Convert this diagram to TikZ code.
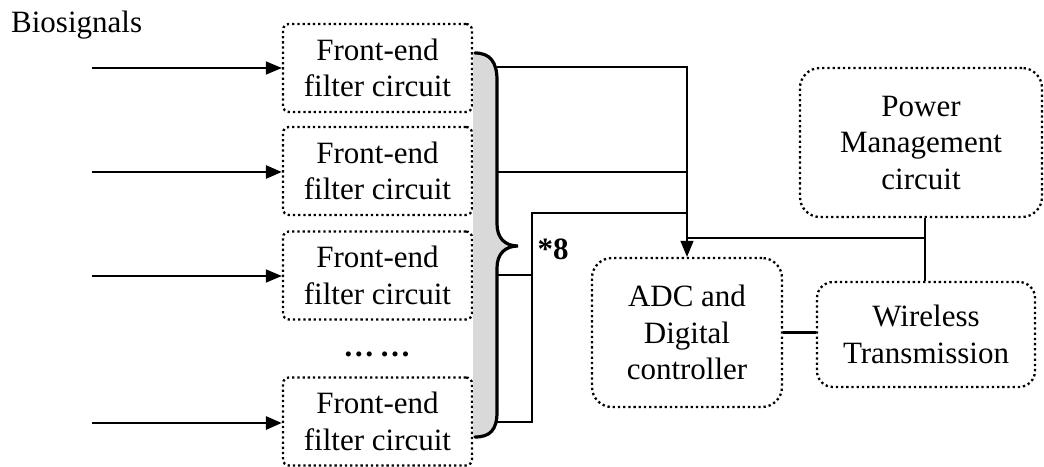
\documentclass[tikz,border=0pt]{standalone}
\usepackage{fontspec}
\setmainfont{Liberation Serif}
\usetikzlibrary{arrows.meta}
\begin{document}
\begin{tikzpicture}[x=1pt,y=-1pt,
  font=\fontsize{31}{36.5}\selectfont,
  dotbox/.style={draw, line width=2.3pt, dash pattern=on 2.3pt off 2.9pt,
    align=center, inner sep=0pt},
  febox/.style={dotbox, rounded corners=6pt, minimum width=189pt, minimum height=88pt},
  wire/.style={line width=1.3pt},
  heavy/.style={line width=2.8pt},
  tip/.style={-{Triangle[length=16pt,width=13pt]}},
  bracefill/.style={fill=black!15},
  bracepen/.style={line width=3.2pt, line cap=round}]
\useasboundingbox (0,0) rectangle (1044,466);

% label of the inputs
\node[anchor=base west, inner sep=0pt] (bio) at (11,32) {Biosignals};

% front-end filter channels
\node[febox] (f1) at (377.5,68)    {Front-end\\filter circuit};
\node[febox] (f2) at (377.5,171)   {Front-end\\filter circuit};
\node[febox] (f3) at (377.5,275.5) {Front-end\\filter circuit};
\node[febox] (f4) at (377.5,421.5) {Front-end\\filter circuit};
\node[anchor=base, inner sep=0pt] (more) at (377,356) {\textbf{…\,…}};

% input signal arrows
\coordinate (i1) at (92,68);
\coordinate (i2) at (92,172);
\coordinate (i3) at (92,276);
\coordinate (i4) at (92,423);
\draw[wire,tip]  (i1) -- (i1 -| f1.west);
\draw[heavy,tip] (i2) -- (i2 -| f2.west);
\draw[wire,tip]  (i3) -- (i3 -| f3.west);
\draw[heavy,tip] (i4) -- (i4 -| f4.west);

% shaded brace gathering the channels
\fill[bracefill] (473,53) .. controls (490,53) and (497,62) .. (497,80)
  -- (497,224) .. controls (497,238) and (505,246) .. (518,246)
  .. controls (505,246) and (497,254) .. (497,268)
  -- (497,412) .. controls (497,430) and (490,437) .. (473,437) -- cycle;
\draw[bracepen] (475,53) .. controls (490,53) and (497,62) .. (497,80)
  -- (497,224) .. controls (497,238) and (505,246) .. (518,246)
  .. controls (505,246) and (497,254) .. (497,268)
  -- (497,412) .. controls (497,430) and (490,437) .. (475,437);
\node[font=\fontsize{31}{36.5}\selectfont\bfseries, inner sep=0pt] (mult) at (553,249) {*8};

% processing blocks
\node[dotbox, rounded corners=20pt, minimum width=242pt, minimum height=149pt]
  (pwr) at (921,142.5) {Power\\Management\\circuit};
\node[dotbox, rounded corners=20pt, minimum width=190pt, minimum height=149pt]
  (adc) at (687,332.5) {ADC and\\Digital\\controller};
\node[dotbox, rounded corners=16pt, minimum width=218pt, minimum height=105pt]
  (rf) at (926,334.5) {Wireless\\Transmission};

% channel outputs to the controller
\coordinate (o1) at (497,67);
\coordinate (o2) at (497,172);
\coordinate (o3) at (497,275);
\coordinate (o4) at (497,422);
\coordinate (bus) at (532,213);
\draw[wire,tip] (o1) -| (adc.north);
\draw[wire] (o2) -- (o2 -| adc.north);
\draw[wire] (o3) -- (o3 -| bus);
\draw[wire] (o4) -| (bus) -- (bus -| adc.north);

% power distribution and radio link
\coordinate (pj) at (925,238);
\draw[heavy] (pj -| adc.north) -- (pj);
\draw[heavy] (pj |- pwr.south) -- (pj |- rf.north);
\draw[heavy] (adc.east) -- (adc.east -| rf.west);
\end{tikzpicture}
\end{document}
